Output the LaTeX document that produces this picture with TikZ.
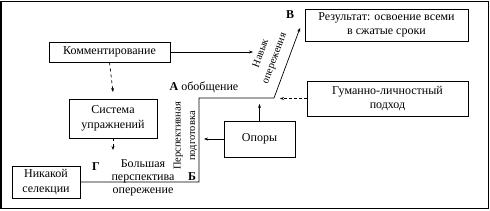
\documentclass[tikz,border=0pt]{standalone}
\usepackage{fontspec}
\setmainfont{Liberation Serif}
\usetikzlibrary{arrows.meta}
\begin{document}
\begin{tikzpicture}[x=1pt,y=-1pt,
  box/.style={draw,line width=0.8pt,inner sep=1pt,align=center,font=\fontsize{12}{14.5}\selectfont},
  lbl/.style={inner sep=0pt,align=center,font=\fontsize{12}{13}\selectfont},
  small/.style={inner sep=0pt,align=center,font=\fontsize{10.5}{14.5}\selectfont},
  tip/.style={-{Stealth[length=4pt,width=3pt]}},
  conn/.style={line width=0.7pt}]
\useasboundingbox (0,0) rectangle (490,211);
\draw[line width=1.5pt] (1,1.5) rectangle (488.5,208.5);
% boxes
\node[box,minimum width=121pt,minimum height=20pt] (komm) at (109.5,52) {Комментирование};
\node[box,minimum width=88pt,minimum height=39pt] (sist) at (113,118.5) {Система\\упражнений};
\node[box,minimum width=68pt,minimum height=32pt] (nik) at (46,182) {Никакой\\селекции};
\node[box,minimum width=163pt,minimum height=32pt] (rez) at (386.5,25) {Результат: освоение всеми\\в сжатые сроки};
\node[box,minimum width=161pt,minimum height=35pt] (gum) at (387.5,98.5) {Гуманно-личностный\\подход};
\node[box,minimum width=71pt,minimum height=36pt] (opory) at (259.5,139) {Опоры};
% coordinates
\coordinate (p1) at (199,182);
\coordinate (p2) at (199,98);
\coordinate (p3) at (274,98);
\coordinate (p4) at (300,28);
\coordinate (k) at (253,52);
\coordinate (s1) at (113,92);
\coordinate (s2) at (113,150);
\coordinate (g) at (280,98.5);
\coordinate (o1) at (259.5,104);
\coordinate (o2) at (204,139);
% connectors
\draw[conn,tip] (nik.east) -- (p1) -- (p2) -- (p3) -- (p4);
\draw[conn,tip] (komm.east) -- (k);
\draw[conn,tip,dashed] (komm.south) -- (s1);
\draw[conn,tip,dashed] (sist.south) -- (s2);
\draw[conn,tip,densely dashed] (gum.west) -- (g);
\draw[conn,tip] (opory.north) -- (o1);
\draw[conn,tip] (opory.west) -- (o2);
% labels
\node[lbl,font=\fontsize{12}{13}\selectfont\bfseries] (G) at (96,167) {Г};
\node[lbl] (bol) at (143,178) {Большая\\перспектива\\опережение};
\node[lbl,font=\fontsize{12}{13}\selectfont\bfseries] (B) at (192,177) {Б};
\node[small,rotate=90] (persp) at (185.5,136) {Перспективная\\подготовка};
\node[lbl] (A) at (204,87) {\textbf{А} обобщение};
\node[small,rotate=69.6] (nav) at (268,56) {Навык\\опережения};
\node[lbl,font=\fontsize{12}{13}\selectfont\bfseries] (V) at (290,15) {В};
\end{tikzpicture}
\end{document}
